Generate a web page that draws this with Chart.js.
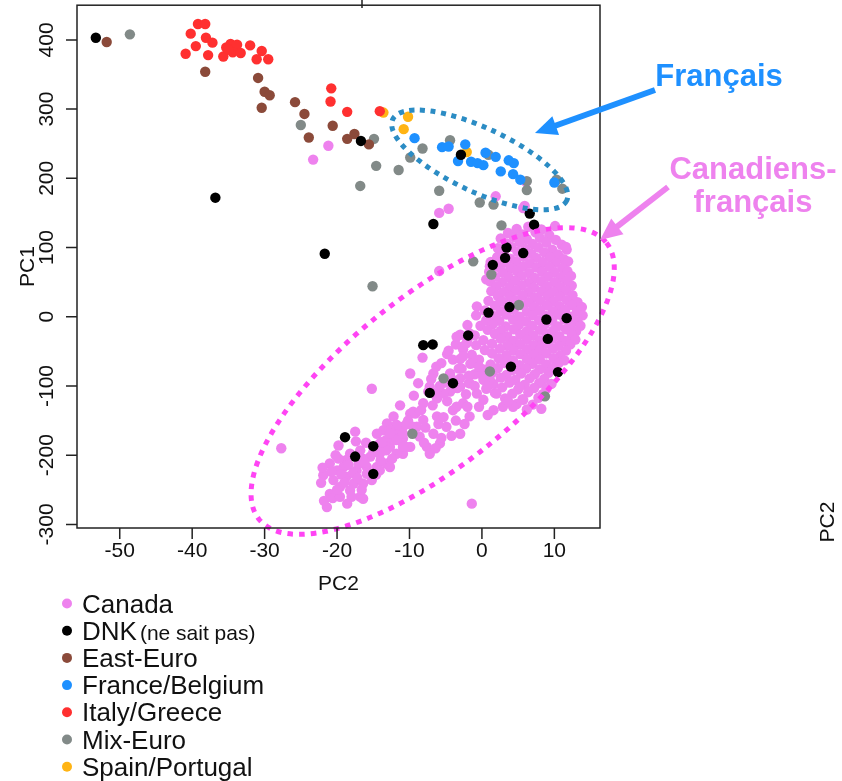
<!DOCTYPE html>
<html>
<head>
<meta charset="utf-8">
<script src="https://cdn.jsdelivr.net/npm/chart.js@4.4.0/dist/chart.umd.min.js"></script>
<style>
html, body { margin: 0; padding: 0; background: #fff; }
canvas { display: block; }
</style>
</head>
<body>
<canvas id="pca" width="842" height="781"></canvas>
<script>
const xTicks = [-50, -40, -30, -20, -10, 0, 10];
const yTicks = [-300, -200, -100, 0, 100, 200, 300, 400];

const groupNames = ["Canada", "DNK", "East-Euro", "France/Belgium", "Italy/Greece", "Mix-Euro", "Spain/Portugal"];
const groupColors = ["#ee82ee", "#000000", "#8b4a3a", "#1e90ff", "#ff3030", "#828a88", "#ffb414"];

const canada = [
    [-21.2, 247], [-23.3, 227], [6.1, 195], [1.9, 174], [5.7, 157], [-4.6, 156], [-5.9, 150], [5.9, 160],
    [-5.9, 66], [10.1, 131], [11.7, 97], [-15.2, -104], [-27.7, -190], [-1.4, -270],
    // upper cluster
    [4.8, 127], [6.4, 130], [8.2, 126],
    [3.6, 121], [5.6, 119], [7.4, 122], [9.3, 118],
    [2.6, 113], [4.4, 115], [6.2, 112], [8.0, 114], [10.2, 111],
    [3.4, 106], [5.2, 108], [7.0, 105], [8.9, 107], [11.0, 104],
    [2.2, 99], [4.1, 101], [6.0, 98], [7.8, 100], [9.7, 97], [11.6, 101],
    [3.0, 92], [4.9, 94], [6.8, 91], [8.6, 93], [10.5, 90],
    [2.1, 86], [3.9, 84], [5.8, 87], [7.5, 85], [9.4, 86], [11.3, 83],
    [1.2, 79], [3.1, 78], [4.7, 80], [6.6, 77], [8.4, 79], [10.2, 78], [11.9, 80],
    [2.2, 72], [4.0, 70], [5.7, 73], [7.5, 71], [9.3, 72], [11.1, 70],
    [1.0, 65], [2.9, 64], [4.8, 66], [6.5, 63], [8.3, 65], [10.0, 64], [11.8, 66],
    [1.8, 58], [3.7, 57], [5.5, 59], [7.3, 56], [9.1, 58], [10.9, 57], [12.3, 59],
    [1.1, 51], [2.8, 50], [4.6, 52], [6.4, 49], [8.2, 51], [10.0, 50], [11.7, 52],
    [2.0, 44], [3.8, 43], [5.5, 45], [7.2, 42], [9.0, 44], [10.8, 43], [12.4, 45],
    [1.3, 37], [3.0, 36], [4.7, 38], [6.4, 35], [8.2, 37], [9.9, 36], [11.6, 38],
    [2.2, 30], [3.9, 29], [5.6, 31], [7.3, 28], [9.1, 30], [10.8, 29], [12.5, 31],
    [0.9, 23], [2.8, 22], [4.6, 24], [6.4, 21], [8.1, 23], [9.9, 22], [11.7, 24], [13.2, 21],
    [1.8, 16], [3.6, 15], [5.4, 17], [7.2, 14], [9.0, 16], [10.7, 15], [12.4, 17], [13.8, 14],
    [0.4, 9], [2.6, 8], [4.4, 10], [6.2, 7], [8.0, 9], [9.8, 8], [11.5, 10], [13.1, 7],
    [-0.8, 2], [1.6, 1], [3.4, 3], [5.2, 0], [7.0, 2], [8.8, 1], [10.6, 3], [12.3, 0], [13.9, 2],
    [0.6, -5], [2.4, -6], [4.3, -4], [6.1, -7], [7.9, -5], [9.7, -6], [11.4, -4], [13.2, -7],
    [-2.0, -12], [-0.2, -13], [1.5, -11], [3.3, -14], [5.1, -12], [6.9, -13], [8.7, -11], [10.5, -14], [12.2, -12], [13.6, -13],
    [0.8, -19], [2.6, -20], [4.4, -18], [6.2, -21], [8.0, -19], [9.8, -20], [11.6, -18], [13.0, -21],
    [-3.0, -26], [-1.0, -27], [1.8, -25], [3.5, -28], [5.3, -26], [7.1, -27], [8.9, -25], [10.7, -28], [12.4, -26],
    [-2.0, -33], [0.2, -34], [2.6, -32], [4.4, -35], [6.2, -33], [8.0, -34], [9.7, -32], [11.5, -35], [12.9, -33],
    [-3.6, -40], [-0.8, -41], [1.4, -39], [3.5, -42], [5.3, -40], [7.1, -41], [8.8, -39], [10.6, -42], [12.2, -40],
    [-2.6, -47], [0.4, -48], [2.5, -46], [4.4, -49], [6.2, -47], [8.0, -48], [9.8, -46], [11.6, -49],
    [-4.8, -54], [-1.4, -55], [1.4, -53], [3.4, -56], [5.3, -54], [7.1, -55], [8.9, -53], [10.8, -56],
    [-3.0, -61], [-0.4, -62], [2.3, -60], [4.3, -63], [6.2, -61], [8.0, -62], [9.9, -60], [11.4, -63],
    [-1.6, -68], [1.2, -69], [3.2, -67], [5.2, -70], [7.0, -68], [8.9, -69], [10.6, -67],
    [-2.8, -75], [0.2, -76], [2.2, -74], [4.2, -77], [6.1, -75], [8.0, -76], [9.8, -74],
    [-4.4, -82], [-1.0, -83], [1.4, -81], [3.4, -84], [5.4, -82], [7.3, -83], [9.2, -81],
    [-3.0, -89], [0.4, -90], [2.6, -88], [4.6, -91], [6.6, -89], [8.6, -90],
    [-1.8, -96], [1.6, -97], [3.8, -95], [5.9, -98], [7.9, -96], [9.6, -97],
    [-3.4, -103], [0.6, -104], [2.8, -102], [5.0, -105], [7.2, -103], [8.9, -104],
    [1.8, -110], [4.2, -111], [6.4, -109], [8.4, -112],
    [3.2, -118], [5.6, -119], [7.8, -117],
    [4.8, -126], [7.0, -127],
    [6.2, -134], [8.2, -133],
    // middle band
    [-9.9, -82], [-8.2, -59], [-4.6, -49], [-3.5, -29], [-2.1, -38], [-6.7, -82], [-5.6, -67], [-4.0, -62],
    [-2.6, -57], [-1.2, -67], [-0.3, -82], [1.1, -91], [-1.7, -96], [-3.0, -101], [-4.4, -108], [-6.2, -118],
    [-8.1, -125], [-8.8, -96], [-11.3, -128], [-9.5, -137], [-12.2, -144], [-13.6, -164], [-12.2, -164],
    [-10.9, -159], [-8.1, -149], [-6.2, -144], [-4.9, -159], [-3.0, -169], [-4.0, -135], [-1.7, -144],
    [-2.6, -125], [0.2, -120], [2.0, -111], [1.6, -135], [-11.3, -178], [-8.6, -173], [-6.7, -169],
    [-14.1, -183], [-12.7, -188], [-9.2, -140], [-9.0, -159], [-14.5, -169], [-13.2, -178], [-9.9, -188],
    [-10.9, -198], [-11.8, -198], [-7.6, -188], [-5.8, -183], [-7.2, -198], [-5.3, -145], [-3.5, -130],
    [-0.7, -111], [2.9, -130], [4.3, -130], [5.7, -120], [5.2, -101], [0.2, -91], [-4.4, -86], [-6.3, -72],
    [-7.2, -101], [-5.3, -111], [-2.6, -43], [-1.7, -24], [-0.7, 15], [0.6, 54], [1.1, 73],
    [-3.2, -75], [-1.8, -85], [0.8, -100], [-0.4, -72], [1.6, -78], [-5.0, -95], [-2.2, -112], [-6.8, -128],
    [-7.4, -108], [-3.6, -150], [-0.4, -130], [-5.6, -175], [-13.1, -154], [-11.5, -166], [-10.9, -176],
    [-10.4, -188], [-9.9, -140],
    [-7.8, -160], [-6.0, -155], [-10.2, -150], [-11.8, -156], [-8.4, -135], [-6.6, -110], [-4.8, -122],
    [-2.0, -130], [-1.0, -100], [-3.8, -92], [-5.8, -100], [-7.0, -90], [-9.4, -114], [-12.6, -175],
    [-8.0, -182], [-6.4, -190], [-4.2, -172], [-2.4, -155], [0.8, -142], [3.6, -122],
    // lower cluster
    [-17.5, -166], [-19.8, -186], [-21.0, -212], [-21.9, -229], [-20.5, -236], [-21.0, -256], [-21.4, -275],
    [-19.6, -246], [-19.1, -217], [-18.2, -198], [-16.8, -193], [-15.4, -202], [-14.1, -198], [-13.2, -212],
    [-12.7, -217], [-14.5, -217], [-15.9, -217], [-17.3, -222], [-18.7, -231], [-17.7, -241], [-16.4, -241],
    [-15.9, -227], [-16.8, -260], [-16.4, -263], [-18.2, -251], [-20.0, -222], [-18.7, -207], [-16.4, -205],
    [-15.0, -188], [-13.6, -190], [-11.8, -178], [-12.7, -164], [-10.9, -169], [-10.4, -155], [-9.5, -159],
    [-13.2, -193], [-10.9, -188], [-20.2, -200], [-19.4, -228], [-17.0, -212], [-15.2, -236], [-14.0, -208],
    [-18.0, -260], [-20.6, -262], [-22.2, -240], [-17.4, -180], [-16.0, -182], [-19.0, -240], [-14.6, -228],
    [-12.4, -205], [-22.0, -218], [-18.4, -214], [-16.6, -250], [-19.6, -260], [-14.1, -222], [-12.7, -169],
    [-20.8, -224], [-19.8, -205], [-17.8, -226], [-16.2, -210], [-15.0, -196], [-13.8, -181], [-20.0, -250],
    [-18.6, -270], [-21.8, -266], [-17.2, -233]
];

const dnk = [
    [-53.3, 403], [-36.8, 172], [-21.7, 91], [-16.7, 254], [-2.9, 234], [-6.7, 134], [6.6, 149], [7.2, 133],
    [3.4, 100], [3.2, 85], [5.7, 92], [1.5, 75], [3.8, 14], [0.9, 6], [11.7, -2], [8.9, -4], [9.1, -32],
    [-1.9, -27], [4.0, -72], [10.5, -80], [-4.0, -96], [-7.2, -110], [-8.1, -41], [-6.8, -40],
    [-18.9, -174], [-17.5, -202], [-15.0, -187], [-15.0, -227]
];

const eastEuro = [
    [-51.8, 397], [-38.2, 354], [-30.9, 345], [-30.0, 325], [-29.3, 320], [-30.4, 302], [-25.8, 310],
    [-24.5, 293], [-20.6, 276], [-23.9, 259], [-18.6, 257], [-17.6, 264], [-15.6, 249]
];

const franceBelgium = [
    [-9.3, 258], [-5.5, 245], [-4.6, 246], [-2.3, 249], [-3.3, 225], [-1.5, 224], [-0.6, 222], [0.2, 219],
    [0.5, 237], [1.9, 231], [3.7, 226], [4.4, 222], [2.6, 210], [4.3, 206], [5.3, 198], [10.0, 194]
];

const italyGreece = [
    [-39.2, 423], [-38.2, 423], [-40.2, 409], [-38.1, 403], [-37.2, 396], [-39.5, 391], [-40.9, 380],
    [-37.8, 378], [-35.7, 376], [-35.3, 389], [-34.7, 394], [-33.8, 393], [-34.4, 382], [-33.3, 381],
    [-32.0, 392], [-30.4, 384], [-31.1, 372], [-29.5, 372], [-35.0, 386], [-20.8, 330], [-20.9, 311],
    [-18.6, 296], [-14.1, 297]
];

const mixEuro = [
    [-48.6, 408], [-25.0, 277], [-14.9, 257], [-8.2, 243], [-9.9, 230], [-14.6, 218], [-11.5, 212],
    [-16.8, 189], [-4.4, 255], [0.9, 234], [6.2, 196], [6.2, 183], [10.3, 198], [11.1, 185], [-5.9, 182],
    [-0.3, 165], [1.6, 162], [2.7, 132], [-15.1, 44], [-1.2, 80], [1.3, 61], [5.1, 17], [-9.6, -169],
    [8.7, -115], [1.1, -79], [-5.3, -89]
];

const spainPortugal = [
    [-13.6, 295], [-10.2, 289], [-10.8, 271], [-2.1, 238]
];

const groupPoints = [canada, dnk, eastEuro, franceBelgium, italyGreece, mixEuro, spainPortugal];

const font = '"Liberation Sans", Arial, Helvetica, sans-serif';

const datasets = groupPoints.map((pts, i) => ({
    label: groupNames[i],
    data: pts.map(p => ({ x: p[0], y: p[1] })),
    backgroundColor: groupColors[i],
    borderWidth: 0,
    pointRadius: 5.2,
    pointHoverRadius: 5.2,
    order: i === 0 ? 2 : 1
}));

function arrow(ctx, x1, y1, x2, y2, color) {
    const dx = x2 - x1, dy = y2 - y1;
    const len = Math.hypot(dx, dy);
    const ux = dx / len, uy = dy / len;
    const head = 22, half = 10;
    const bx = x2 - ux * head, by = y2 - uy * head;
    ctx.strokeStyle = color;
    ctx.fillStyle = color;
    ctx.lineWidth = 6;
    ctx.setLineDash([]);
    ctx.beginPath();
    ctx.moveTo(x1, y1);
    ctx.lineTo(bx + ux * 2, by + uy * 2);
    ctx.stroke();
    ctx.beginPath();
    ctx.moveTo(x2, y2);
    ctx.lineTo(bx - uy * half, by + ux * half);
    ctx.lineTo(bx + uy * half, by - ux * half);
    ctx.closePath();
    ctx.fill();
}

const framePlugin = {
    id: "frame",
    afterDraw(chart) {
        const { ctx, chartArea: a, scales: { x, y } } = chart;
        ctx.save();

        // dotted ellipses around the two groups
        ctx.lineWidth = 5;
        ctx.setLineDash([5, 5.6]);
        ctx.strokeStyle = "#2b8cc4";
        ctx.beginPath();
        ctx.ellipse(x.getPixelForValue(-0.3), y.getPixelForValue(226.6), 96, 32, 0.436, 0, Math.PI * 2);
        ctx.stroke();
        ctx.setLineDash([5.5, 6.2]);
        ctx.strokeStyle = "#ff44f4";
        ctx.beginPath();
        ctx.ellipse(x.getPixelForValue(-6.8), y.getPixelForValue(-92.8), 222, 85, -0.672, 0, Math.PI * 2);
        ctx.stroke();
        ctx.setLineDash([]);

        // box and axes
        ctx.strokeStyle = "#222";
        ctx.lineWidth = 1.5;
        ctx.strokeRect(a.left, a.top, a.right - a.left, a.bottom - a.top);
        ctx.beginPath();
        xTicks.forEach(v => {
            const px = x.getPixelForValue(v);
            ctx.moveTo(px, a.bottom);
            ctx.lineTo(px, a.bottom + 11);
        });
        yTicks.forEach(v => {
            const py = y.getPixelForValue(v);
            ctx.moveTo(a.left, py);
            ctx.lineTo(a.left - 11, py);
        });
        ctx.moveTo(362, 0);
        ctx.lineTo(362, 8);
        ctx.stroke();

        ctx.fillStyle = "#111";
        ctx.font = "21px " + font;
        ctx.textAlign = "center";
        ctx.textBaseline = "alphabetic";
        xTicks.forEach(v => ctx.fillText(String(v), x.getPixelForValue(v), 557));
        ctx.fillText("PC2", (a.left + a.right) / 2, 590);

        yTicks.forEach(v => {
            ctx.save();
            ctx.translate(53, y.getPixelForValue(v));
            ctx.rotate(-Math.PI / 2);
            ctx.fillText(String(v), 0, 0);
            ctx.restore();
        });
        ctx.save();
        ctx.translate(34, (a.top + a.bottom) / 2);
        ctx.rotate(-Math.PI / 2);
        ctx.fillText("PC1", 0, 0);
        ctx.restore();

        // fragment of the next panel
        ctx.save();
        ctx.translate(834, 522);
        ctx.rotate(-Math.PI / 2);
        ctx.fillText("PC2", 0, 0);
        ctx.restore();

        // legend
        ctx.textAlign = "left";
        groupNames.forEach((name, i) => {
            const cy = 603.5 + i * 27.2;
            ctx.fillStyle = groupColors[i];
            ctx.beginPath();
            ctx.arc(67, cy, 5, 0, Math.PI * 2);
            ctx.fill();
            ctx.fillStyle = "#111";
            ctx.font = "26px " + font;
            ctx.fillText(name, 82, cy + 9);
            if (name === "DNK") {
                const w = ctx.measureText(name).width;
                ctx.font = "21px " + font;
                ctx.fillText("(ne sait pas)", 82 + w + 3, cy + 9);
            }
        });

        // annotations
        ctx.textAlign = "center";
        ctx.font = "bold 31px " + font;
        ctx.fillStyle = "#1e90ff";
        ctx.fillText("Français", 719, 86);
        ctx.fillStyle = "#ee82ee";
        ctx.fillText("Canadiens-", 753, 179);
        ctx.fillText("français", 753, 212);
        arrow(ctx, 655, 90, 535, 133, "#1e90ff");
        arrow(ctx, 668, 187, 600, 240, "#ee82ee");

        ctx.restore();
    }
};

new Chart(document.getElementById("pca"), {
    type: "scatter",
    data: { datasets: datasets },
    options: {
        responsive: false,
        animation: false,
        devicePixelRatio: 1,
        layout: { padding: { left: 77, right: 242, top: 5, bottom: 253 } },
        scales: {
            x: { type: "linear", display: false, min: -55.9, max: 16.3 },
            y: { type: "linear", display: false, min: -305.2, max: 450.1 }
        },
        plugins: {
            legend: { display: false },
            tooltip: { enabled: false }
        }
    },
    plugins: [framePlugin]
});
</script>
</body>
</html>
